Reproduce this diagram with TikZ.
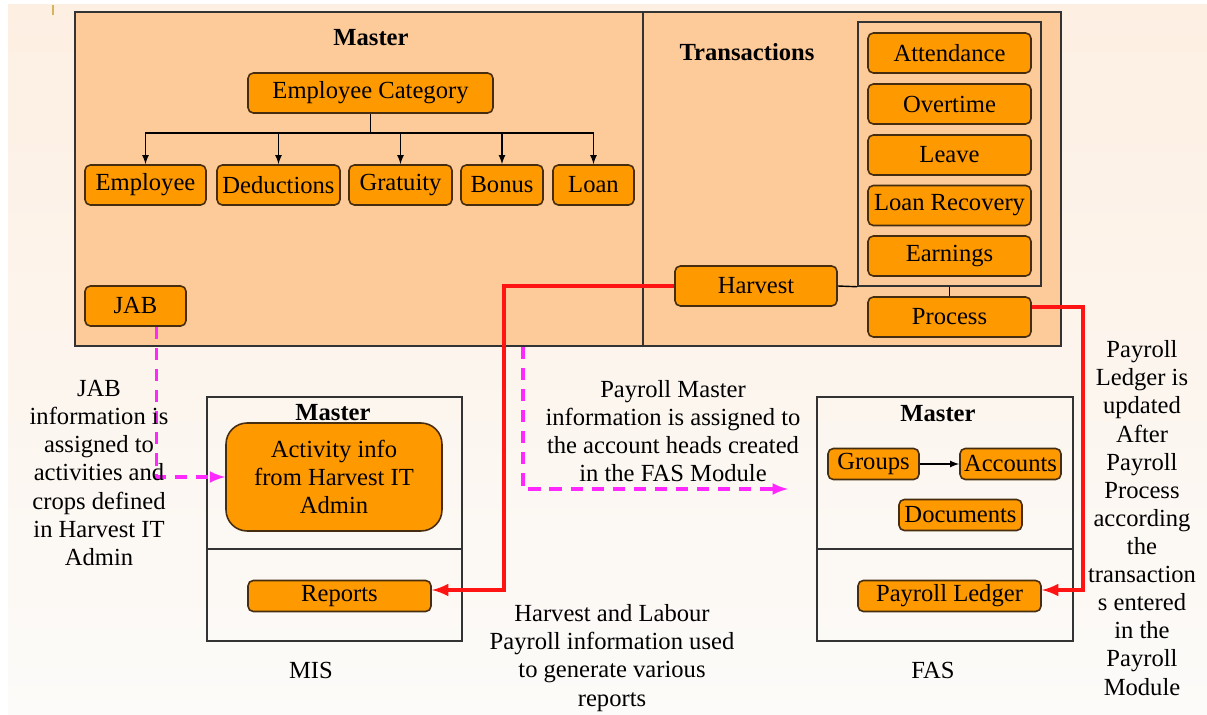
\documentclass[tikz,border=0pt]{standalone}
\usepackage{fontspec}
\setmainfont{Liberation Serif}
\usetikzlibrary{arrows,positioning}
\definecolor{peach}{RGB}{253,203,154}
\definecolor{boxorange}{RGB}{255,153,0}
\definecolor{boxedge}{RGB}{70,45,15}
\definecolor{bgtop}{RGB}{253,239,226}
\definecolor{bgbot}{RGB}{252,251,249}
\definecolor{linkred}{RGB}{255,20,20}
\definecolor{linkpink}{RGB}{255,40,255}
\definecolor{goldmark}{RGB}{215,180,90}
\tikzset{
 cell/.style={draw=boxedge, fill=boxorange, rounded corners=3pt, line width=0.9pt, minimum height=0.8cm, inner sep=1pt},
 panel/.style={draw=black!80, line width=0.9pt},
 boxtitle/.style={font=\fontsize{14}{16}\selectfont\bfseries},
 remark/.style={align=center},
 tree/.style={line width=0.8pt, -latex},
 redlink/.style={draw=linkred, line width=2.2pt, -latex},
 pinklink/.style={draw=linkpink, line width=2pt, dash pattern=on 7pt off 5pt, -latex},
}
\begin{document}
\begin{tikzpicture}[x=0.02cm, y=-0.02cm, font=\fontsize{14}{16}\selectfont]
 % background
 \fill[white] (0,0) rectangle (1207,715);
 \shade[top color=bgtop, bottom color=bgbot] (8,5) rectangle (1207,715);
 \useasboundingbox (0,0) rectangle (1207,715);
 \draw[goldmark, line width=1.5pt] (53,5) -- (53,15);

 % upper panel
 \node[panel, fill=peach, minimum width=19.72cm, minimum height=6.68cm] (upper) at (568,179) {};
 \draw[panel] (643,12) -- (643,346);

 % master
 \node[boxtitle] (mastertitle) at (371,38) {Master};
 \node[cell, minimum width=4.9cm] (empcat) at (370.5,93) {Employee Category};
 \node[cell, minimum width=2.42cm] (employee) at (145.5,185) {Employee};
 \node[cell, minimum width=2.46cm] (deductions) at (278.5,185) {Deductions};
 \node[cell, minimum width=2.06cm] (gratuity) at (400.5,185) {Gratuity};
 \node[cell, minimum width=1.64cm] (bonus) at (502,185) {Bonus};
 \node[cell, minimum width=1.62cm] (loan) at (593.5,185) {Loan};
 \node[cell, minimum width=2.02cm] (jab) at (135.5,306) {JAB};

 \coordinate (split) at (370.5,133);
 \draw[line width=0.8pt] (empcat.south) -- (split);
 \foreach \c in {employee,deductions,gratuity,bonus,loan}
  \draw[tree] (split) -| (\c.north);

 % transactions
 \node[boxtitle] (transtitle) at (747,52) {Transactions};
 \node[panel, minimum width=3.66cm, minimum height=5.28cm] (translist) at (949.5,154) {};
 \node[cell, minimum width=3.26cm] (attendance) at (949.5,53) {Attendance};
 \node[cell, minimum width=3.26cm] (overtime) at (949.5,104) {Overtime};
 \node[cell, minimum width=3.26cm] (leave) at (949.5,155) {Leave};
 \node[cell, minimum width=3.26cm] (loanrec) at (949.5,205.5) {Loan Recovery};
 \node[cell, minimum width=3.26cm] (earnings) at (949.5,256) {Earnings};
 \node[cell, minimum width=3.24cm] (harvest) at (756,286) {Harvest};
 \node[cell, minimum width=3.26cm] (process) at (949.5,317) {Process};
 \draw[line width=0.8pt] (harvest.east) -- (translist.south west);
 \draw[line width=0.8pt] (translist.south) -- (process.north);

 % MIS
 \node[panel, minimum width=5.1cm, minimum height=4.88cm] (mis) at (334.5,519) {};
 \draw[panel] (207,549) -- (462,549);
 \node[boxtitle] (mistitle) at (333,413) {Master};
 \node[cell, rounded corners=12pt, minimum width=4.32cm, minimum height=2.16cm, align=center] (activity) at (334,477) {Activity info\\from Harvest IT\\Admin};
 \node[cell, minimum width=3.66cm, minimum height=0.62cm] (reports) at (339.5,596) {Reports};
 \node (mislabel) at (311,670) {MIS};

 % FAS
 \node[panel, minimum width=5.12cm, minimum height=4.88cm] (fas) at (945,519) {};
 \draw[panel] (817,549) -- (1073,549);
 \node[boxtitle] (fastitle) at (938,414) {Master};
 \node[cell, minimum width=1.82cm, minimum height=0.62cm] (groups) at (873.5,464) {Groups};
 \node[cell, minimum width=2.02cm, minimum height=0.62cm] (accounts) at (1010.5,464) {Accounts};
 \node[cell, minimum width=2.46cm, minimum height=0.62cm] (documents) at (960.5,515) {Documents};
 \node[cell, minimum width=3.66cm, minimum height=0.62cm] (ledger) at (949.5,596) {Payroll Ledger};
 \node (faslabel) at (933,670) {FAS};
 \draw[tree] (groups) -- (accounts);

 % links
 \draw[redlink] (harvest.west) -| ([xshift=1.44cm,yshift=0.12cm]reports.east) -- ([yshift=0.12cm]reports.east);
 \draw[redlink] ([yshift=0.2cm]process.east) -| ([xshift=0.82cm,yshift=0.12cm]ledger.east) -- ([yshift=0.12cm]ledger.east);
 \draw[pinklink] ([xshift=0.42cm]jab.south) |- (activity.west);
 \coordinate (pmend) at (788,489);
 \draw[pinklink] ([xshift=-0.9cm]upper.south) |- (pmend);

 % notes
 \node[remark] (jabnote) at (99,473) {JAB\\information is\\assigned to\\activities and\\crops defined\\in Harvest IT\\Admin};
 \node[remark] (pmnote) at (673,431) {Payroll Master\\information is assigned to\\the account heads created\\in the FAS Module};
 \node[remark] (hlnote) at (612,658) {Harvest and Labour\\Payroll information used\\to generate various\\reports};
 \node[remark] (plnote) at (1142,518) {Payroll\\Ledger is\\updated\\After\\Payroll\\Process\\according\\the\\transaction\\s entered\\in the\\Payroll\\Module};
\end{tikzpicture}
\end{document}
